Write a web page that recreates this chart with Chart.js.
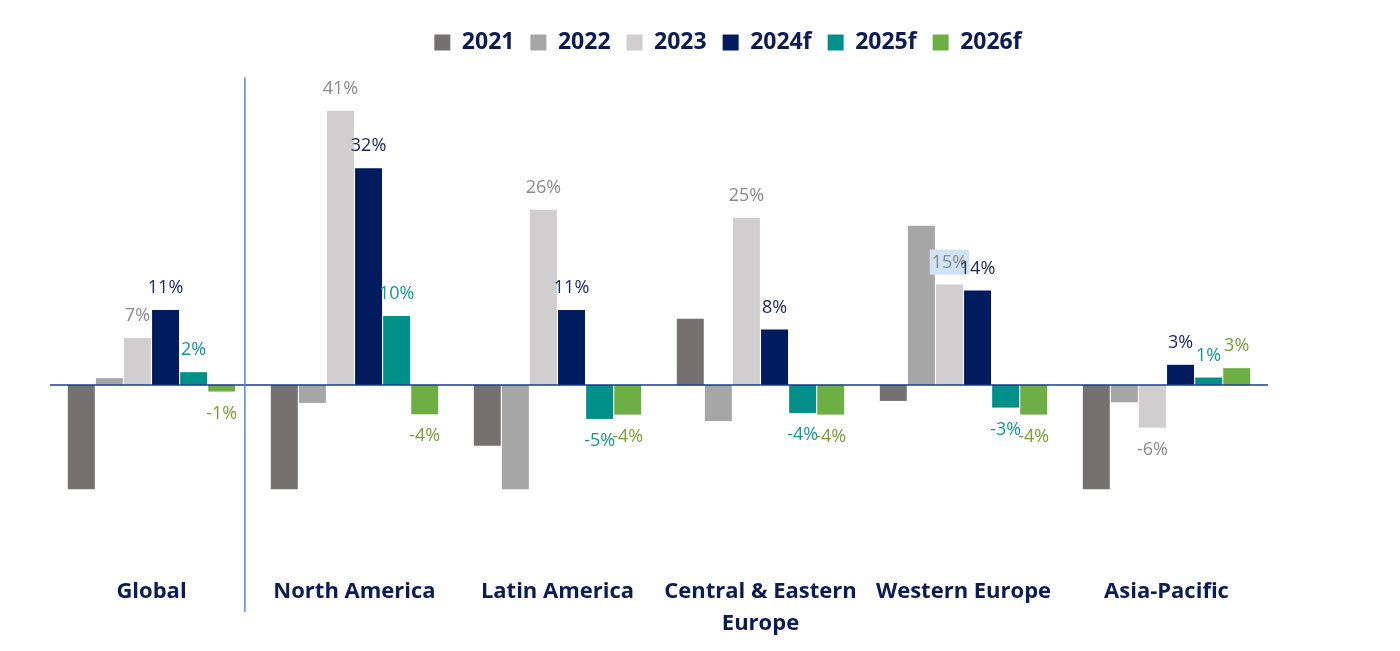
<!DOCTYPE html>
<html>
<head>
<meta charset="utf-8">
<script src="https://cdn.jsdelivr.net/npm/chart.js@4.4.1/dist/chart.umd.min.js"></script>
<style>
  html, body { margin: 0; background: #fff; }
</style>
</head>
<body>
<canvas id="chart" width="1400" height="651"></canvas>
<script>
// Categories and series (growth, %)
const regions = ['Global', 'North America', 'Latin America', ['Central & Eastern', 'Europe'], 'Western Europe', 'Asia-Pacific'];
const years = ['2021', '2022', '2023', '2024f', '2025f', '2026f'];
const v2021 = [-15.6, -15.6, -9.1, 9.9, -2.4, -15.6];
const v2022 = [1.0, -2.7, -15.6, -5.4, 23.8, -2.6];
const v2023 = [7.0, 41.0, 26.2, 25.0, 15.0, -6.4];
const v2024 = [11.2, 32.4, 11.2, 8.3, 14.1, 3.0];
const v2025 = [1.9, 10.3, -5.1, -4.2, -3.4, 1.1];
const v2026 = [-1.0, -4.4, -4.45, -4.45, -4.45, 2.5];

const barColors = ['#767171', '#a6a6a6', '#d0cece', '#001b5e', '#00908a', '#6dae45'];
// only the last four series carry value labels
const labelColors = [null, null, '#8a8a8a', '#1b2a63', '#17968f', '#7b9c38'];
const navy = '#0b1c54';

//#region overlay: zero line, divider, value labels
const overlay = {
    id: 'overlay',
    afterLayout(chart) {
        // legend sits right of the plot centre in the original
        chart.legend.left += 69;
        chart.legend.right += 69;
    },
    afterDatasetsDraw(chart) {
        const ctx = chart.ctx;
        const area = chart.chartArea;
        const x = chart.scales.x;
        const y = chart.scales.y;
        const y0 = y.getPixelForValue(0);
        ctx.save();

        ctx.strokeStyle = '#1d3a86';
        ctx.lineWidth = 1.5;
        ctx.beginPath();
        ctx.moveTo(area.left, y0);
        ctx.lineTo(area.right, y0);
        ctx.stroke();

        const dx = x.getPixelForValue(0.46);
        ctx.strokeStyle = '#5b86d8';
        ctx.beginPath();
        ctx.moveTo(dx, y.getPixelForValue(46));
        ctx.lineTo(dx, area.bottom + 60);
        ctx.stroke();

        ctx.font = '18px "Open Sans"';
        ctx.textAlign = 'center';
        ctx.textBaseline = 'middle';
        chart.data.datasets.forEach((ds, i) => {
            if (!labelColors[i]) return;
            chart.getDatasetMeta(i).data.forEach((bar, j) => {
                const v = ds.data[j];
                const ty = v >= 0 ? bar.y - 22 : bar.y + 22;
                const txt = Math.round(v) + '%';
                // the 15% label is selected (blue box) in the source picture
                if (i === 2 && j === 4) {
                    const w = ctx.measureText(txt).width + 4;
                    ctx.fillStyle = '#cfe2f7';
                    ctx.fillRect(bar.x - w / 2, ty - 13, w, 25);
                }
                ctx.fillStyle = labelColors[i];
                ctx.fillText(txt, bar.x, ty);
            });
        });
        ctx.restore();
    }
};
//#endregion

const series = [v2021, v2022, v2023, v2024, v2025, v2026];
const data = {
    labels: regions,
    datasets: years.map((yr, i) => ({
        label: yr,
        data: series[i],
        backgroundColor: barColors[i],
        borderWidth: 0,
        categoryPercentage: 0.83,
        barPercentage: 0.96
    }))
};

new Chart(document.getElementById('chart'), {
    type: 'bar',
    data: data,
    plugins: [overlay],
    options: {
        responsive: false,
        animation: false,
        devicePixelRatio: 1,
        layout: { padding: { left: 50, right: 132, top: 15, bottom: 0 } },
        plugins: {
            tooltip: { enabled: false },
            legend: {
                position: 'top',
                labels: {
                    boxWidth: 16,
                    boxHeight: 16,
                    padding: 16,
                    color: navy,
                    font: { family: '"Open Sans"', size: 23, weight: 'bold' }
                }
            }
        },
        scales: {
            x: {
                grid: { display: false, drawTicks: false },
                border: { display: false },
                afterFit(scale) { scale.height = 99; },
                ticks: {
                    color: navy,
                    padding: 24,
                    maxRotation: 0,
                    autoSkip: false,
                    font: { family: '"Open Sans"', size: 22, weight: 'bold', lineHeight: 1.45 }
                }
            },
            y: {
                display: false,
                min: -25,
                max: 48
            }
        }
    }
});
</script>
</body>
</html>
